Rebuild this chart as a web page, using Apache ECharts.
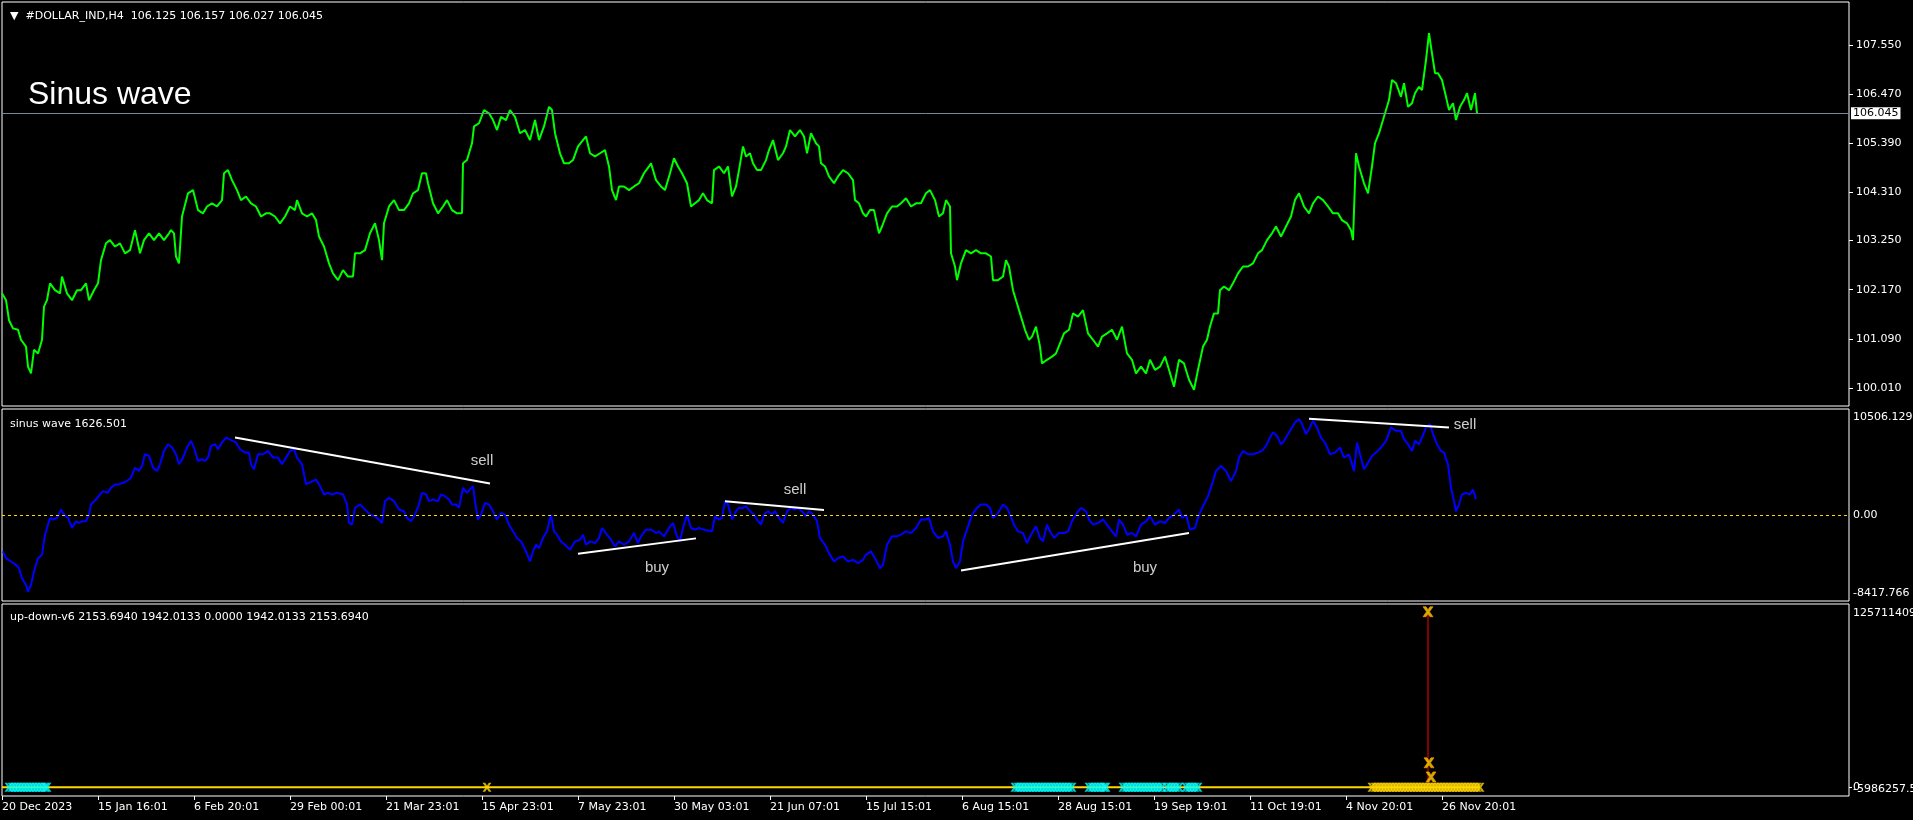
<!DOCTYPE html>
<html><head><meta charset="utf-8">
<script src="https://cdn.jsdelivr.net/npm/echarts@6/dist/echarts.min.js"></script>
<style>html,body{margin:0;padding:0;background:#000;}#c{width:1913px;height:820px;}</style>
</head><body><div id="c"></div><script>
// ---------- data ----------
const symbolName = '#DOLLAR_IND,H4';
const ohlc = ['106.125', '106.157', '106.027', '106.045'];
const lastPrice = 106.045;
const chartTitle = 'Sinus wave';
const sinusName = 'sinus wave';
const sinusLast = '1626.501';
const updownName = 'up-down-v6';
const updownValues = ['2153.6940', '1942.0133', '0.0000', '1942.0133', '2153.6940'];

const timeLabels = ['20 Dec 2023', '15 Jan 16:01', '6 Feb 20:01', '29 Feb 00:01', '21 Mar 23:01', '15 Apr 23:01',
  '7 May 23:01', '30 May 03:01', '21 Jun 07:01', '15 Jul 15:01', '6 Aug 15:01', '28 Aug 15:01',
  '19 Sep 19:01', '11 Oct 19:01', '4 Nov 20:01', '26 Nov 20:01'];
const timeTickBars = [0, 96, 192, 288, 384, 480, 576, 672, 768, 864, 960, 1056, 1152, 1248, 1344, 1440];
const barRange = [0, 1847];

const priceTicks = [100.010, 101.090, 102.170, 103.250, 104.310, 105.390, 106.470, 107.550];
const priceRange = [99.614, 108.495];
const sinusTicks = [-8417.766, 0, 10506.129];
const sinusTickLabels = ['-8417.766', '0.00', '10506.129'];
const updownTicks = [-5986257.5, 125711409];
const updownTickLabels = ['-5986257.5', '125711409'];
const updownZero = [0];
const updownZeroLabel = ['0'];

// [bar index, price]
const priceData = [[0,102.09],[4,101.94],[7,101.50],[11,101.32],[16,101.29],[19,101.07],[24,100.92],[26,100.48],[29,100.33],[32,100.85],[36,100.77],[40,101.07],[42,101.80],[45,101.94],[48,102.31],[53,102.16],[58,102.09],[60,102.46],[65,102.09],[70,101.94],[75,102.16],[79,102.16],[84,102.31],[87,101.94],[92,102.16],[96,102.31],[99,102.82],[104,103.19],[108,103.26],[113,103.12],[118,103.19],[123,102.97],[128,103.04],[133,103.48],[138,102.97],[142,103.26],[147,103.41],[152,103.26],[157,103.41],[162,103.26],[167,103.41],[169,103.48],[172,103.41],[174,102.90],[177,102.75],[180,103.78],[186,104.29],[191,104.36],[196,103.92],[201,103.85],[205,104.00],[210,104.07],[215,104.00],[220,104.14],[222,104.73],[226,104.80],[230,104.58],[235,104.36],[239,104.14],[244,104.22],[249,104.07],[254,104.00],[259,103.78],[264,103.85],[268,103.85],[273,103.78],[278,103.63],[283,103.78],[288,104.00],[293,103.92],[295,104.14],[300,103.85],[305,103.78],[310,103.85],[314,103.70],[317,103.34],[322,103.12],[327,102.75],[331,102.53],[336,102.38],[341,102.60],[346,102.46],[351,102.46],[353,102.97],[358,102.97],[363,103.04],[368,103.41],[373,103.63],[377,103.26],[380,102.82],[382,103.63],[387,104.00],[392,104.14],[397,103.92],[402,103.92],[407,104.07],[411,104.29],[416,104.36],[420,104.73],[424,104.73],[426,104.51],[431,104.07],[436,103.85],[441,104.00],[445,104.14],[450,103.92],[455,103.85],[460,103.85],[461,104.95],[465,105.02],[470,105.39],[472,105.76],[477,105.83],[482,106.12],[487,106.05],[491,105.90],[495,105.68],[499,105.97],[504,105.90],[508,106.12],[513,105.97],[518,105.61],[523,105.68],[528,105.46],[533,105.90],[537,105.46],[542,105.76],[547,106.19],[550,106.12],[553,105.61],[558,105.17],[562,104.95],[567,104.95],[571,105.02],[576,105.32],[581,105.46],[584,105.54],[588,105.17],[593,105.10],[598,105.17],[603,105.24],[607,104.88],[610,104.36],[614,104.14],[617,104.44],[622,104.44],[627,104.36],[632,104.44],[637,104.51],[642,104.73],[647,104.88],[649,104.95],[654,104.58],[659,104.44],[663,104.36],[668,104.73],[672,105.06],[676,104.88],[680,104.73],[685,104.51],[689,104.00],[693,104.07],[697,104.14],[701,104.29],[705,104.14],[710,104.07],[712,104.80],[717,104.88],[722,104.73],[726,104.88],[730,104.22],[734,104.44],
[737,104.80],[741,105.32],[744,105.10],[748,105.17],[751,104.95],[755,104.80],[759,104.80],[764,105.02],[767,105.24],[771,105.46],[776,105.02],[781,105.17],[784,105.32],[788,105.68],[793,105.54],[798,105.68],[802,105.54],[805,105.17],[809,105.61],[814,105.39],[817,105.32],[819,104.95],[823,104.88],[827,104.66],[832,104.51],[836,104.66],[841,104.80],[846,104.73],[851,104.58],[853,104.14],[857,104.07],[861,103.85],[864,103.78],[868,103.92],[872,103.92],[877,103.41],[880,103.56],[885,103.85],[890,104.00],[895,104.00],[899,104.07],[904,104.18],[909,104.00],[914,104.07],[919,104.07],[924,104.29],[928,104.36],[933,104.14],[937,103.78],[941,103.85],[944,104.14],[948,104.00],[949,102.97],[953,102.68],[955,102.38],[959,102.75],[964,103.04],[969,102.97],[974,103.04],[979,102.97],[984,102.97],[989,102.90],[991,102.38],[996,102.38],[1001,102.46],[1004,102.82],[1007,102.68],[1011,102.16],[1014,101.94],[1018,101.65],[1023,101.29],[1027,101.07],[1030,101.14],[1034,101.36],[1038,100.92],[1040,100.55],[1045,100.63],[1050,100.70],[1054,100.77],[1058,100.99],[1062,101.21],[1067,101.29],[1071,101.65],[1076,101.58],[1081,101.72],[1086,101.21],[1091,101.07],[1096,100.92],[1100,101.14],[1105,101.21],[1110,101.29],[1115,101.07],[1120,101.36],[1125,100.77],[1130,100.63],[1134,100.33],[1139,100.48],[1144,100.33],[1148,100.63],[1153,100.41],[1158,100.48],[1163,100.70],[1167,100.41],[1172,100.04],[1177,100.63],[1182,100.55],[1187,100.19],[1192,99.97],[1196,100.41],[1201,100.92],[1205,101.07],[1208,101.36],[1212,101.65],[1216,101.65],[1218,102.16],[1222,102.24],[1227,102.16],[1231,102.31],[1236,102.53],[1241,102.68],[1246,102.68],[1251,102.75],[1256,102.97],[1260,103.04],[1265,103.26],[1270,103.41],[1274,103.56],[1279,103.34],[1284,103.56],[1289,103.78],[1293,104.14],[1297,104.29],[1302,104.00],[1307,103.85],[1311,104.07],[1316,104.22],[1321,104.14],[1326,104.00],[1331,103.85],[1336,103.85],[1340,103.70],[1345,103.63],[1349,103.48],[1351,103.26],[1354,105.17],[1357,104.88],[1362,104.51],[1366,104.29],[1370,104.88],[1373,105.39],[1377,105.61],[1381,105.90],[1384,106.12],[1387,106.34],[1390,106.78],[1394,106.71],[1399,106.41],[1402,106.71],[1406,106.19],[1410,106.27],[1413,106.49],[1417,106.63],[1420,106.56],[1424,107.22],[1427,107.81],[1429,107.51],[1433,106.93],[1436,106.93],[1440,106.78],[1444,106.41],[1447,106.12],[1451,106.27],[1454,105.90],[1458,106.19],[1462,106.34],[1465,106.49],[1469,106.12],[1473,106.49],[1475,106.045]];

// [bar index, sinus wave value]
const sinusData = [[1,-3534],[4,-4195],[9,-4525],[14,-4855],[17,-5186],[20,-6177],[24,-6837],[26,-7498],[29,-6837],[32,-5516],[36,-4195],[40,-3865],[43,-1883],[45,-1222],[48,-231],[51,-396],[55,-231],[59,595],[62,99],[66,-231],[70,-1222],[74,-562],[77,-727],[80,-562],[84,-562],[87,99],[89,1090],[94,1585],[98,2081],[101,2411],[106,2246],[109,2741],[113,3072],[117,3072],[121,3237],[125,3402],[129,3732],[133,4723],[137,4393],[140,4888],[143,6045],[147,5879],[151,4723],[155,4393],[158,5054],[162,6375],[166,7035],[170,6705],[174,6045],[177,5054],[181,5714],[185,6705],[189,7366],[192,6705],[196,5384],[200,5549],[203,5384],[206,5714],[209,6870],[213,7035],[216,6540],[220,7200],[224,7696],[227,7531],[231,7366],[234,7200],[238,6540],[243,6210],[247,6210],[249,5054],[252,4558],[256,6045],[261,6045],[266,6375],[271,5714],[276,5714],[280,5054],[284,5714],[288,6375],[292,6540],[295,5714],[300,5054],[304,3072],[307,3237],[311,3402],[314,3567],[318,2907],[322,2081],[326,2246],[330,2081],[335,2246],[341,2081],[345,1090],[347,-727],[350,-892],[353,760],[358,1090],[363,595],[368,99],[373,-66],[377,-396],[380,-727],[383,1420],[387,1751],[392,1420],[397,595],[402,429],[405,-231],[409,-562],[413,99],[417,1090],[420,2246],[424,2081],[427,1420],[431,1585],[436,1420],[439,2081],[443,1916],[447,1585],[450,1090],[454,1090],[457,760],[461,2741],[465,2246],[468,2576],[471,2907],[473,1420],[476,-396],[479,99],[483,1255],[487,1090],[491,429],[495,-396],[499,264],[503,99],[507,-892],[511,-1552],[515,-2213],[519,-2543],[524,-3534],[528,-4525],[531,-3534],[534,-2874],[537,-3204],[541,-2213],[545,-1552],[549,99],[552,-1552],[555,-1883],[559,-2543],[563,-2874],[568,-3369],[573,-2543],[578,-2378],[581,-1883],[584,-2874],[588,-2543],[593,-2708],[597,-2213],[600,-1222],[605,-1883],[609,-2378],[613,-3039],[617,-2543],[622,-2874],[627,-2543],[632,-1718],[636,-2708],[639,-2048],[644,-1387],[649,-1387],[654,-1718],[657,-1552],[662,-2048],[667,-1222],[671,-727],[675,-2048],[678,-2543],[681,-1222],[685,99],[689,-1222],[693,-1387],[697,-1222],[702,-1387],[707,-1486],[710,-1552],[713,-66],[717,-396],[720,-231],[723,1420],[726,1090],[730,-396],[734,429],
[737,760],[741,760],[744,925],[748,429],[752,99],[755,-396],[759,-892],[762,99],[766,429],[770,99],[773,429],[777,-231],[781,-727],[785,429],[789,760],[793,595],[796,760],[800,429],[804,-66],[807,429],[811,99],[815,-562],[818,-2213],[823,-2874],[827,-3699],[832,-4525],[836,-4195],[841,-4030],[846,-4525],[851,-4360],[856,-4690],[861,-4360],[864,-3865],[869,-3534],[873,-4195],[878,-5186],[881,-4855],[885,-2874],[890,-2048],[895,-2048],[899,-1883],[904,-1552],[909,-1718],[914,-1222],[919,-396],[924,-396],[927,-231],[931,-1552],[936,-2213],[941,-2048],[944,-1552],[948,-2874],[951,-4525],[954,-5186],[958,-4525],[961,-2543],[965,-1387],[970,99],[975,760],[979,1090],[984,1090],[988,760],[991,-231],[996,264],[1001,1090],[1005,760],[1008,99],[1012,-892],[1016,-1552],[1021,-1718],[1025,-2708],[1029,-1883],[1034,-1057],[1038,-2213],[1041,-2543],[1045,-892],[1048,-1552],[1052,-2213],[1057,-1718],[1062,-1718],[1066,-1552],[1070,-562],[1075,264],[1079,760],[1084,429],[1087,-396],[1091,-892],[1096,-727],[1101,-396],[1105,-892],[1110,-1552],[1114,-2048],[1117,-396],[1121,-892],[1125,-1883],[1130,-1718],[1134,-2048],[1139,-892],[1144,-562],[1148,-66],[1153,-892],[1158,-562],[1163,-727],[1167,-231],[1172,99],[1177,595],[1180,-231],[1184,99],[1188,-1387],[1193,-1222],[1197,99],[1201,925],[1206,1916],[1210,3072],[1214,4393],[1219,4888],[1224,4393],[1229,3402],[1234,4393],[1237,5714],[1241,6375],[1246,6045],[1251,6045],[1256,6210],[1260,6375],[1264,6870],[1268,7696],[1271,8191],[1275,7861],[1279,7035],[1282,7366],[1286,8026],[1290,8687],[1293,9182],[1297,9513],[1300,9017],[1304,8026],[1308,8687],[1311,9347],[1315,8687],[1319,7696],[1323,7200],[1328,6045],[1333,6210],[1338,6705],[1342,5714],[1347,6045],[1352,4393],[1355,7200],[1358,6045],[1362,4558],[1366,5219],[1370,5879],[1374,6210],[1379,6705],[1384,7366],[1389,8687],[1394,8357],[1399,8357],[1402,7531],[1406,7035],[1410,6375],[1413,7366],[1417,7035],[1420,7696],[1424,8687],[1428,9017],[1431,8026],[1435,7035],[1439,6375],[1442,6210],[1446,5054],[1449,2741],[1452,1420],[1454,429],[1457,1090],[1460,2081],[1464,2246],[1468,2081],[1471,2576],[1474,1627]];

// hand-drawn trend lines on the sinus pane: [[bar, value], [bar, value]]
const trendLines = [
  [[233, 7696], [488, 3171]],
  [[576, -3765], [694, -2246]],
  [[723, 1420], [822, 561]],
  [[959, -5417], [1187, -1718]],
  [[1307, 9546], [1447, 8687]]
];
const signalNames = ['sell', 'buy', 'sell', 'buy', 'sell'];
const signalBars = [480, 655, 793, 1143, 1463];
const signalValues = [5350, -5152, 2576, -5152, 8947];

// up-down-v6 pane
const baselineData = [[0, 0], [1478, 0]];
const spikeData = [[1426, 120400000], [1426, 0]];
const spikeCrosses = [[1426, 120400000], [1427, 16800000], [1429, 7100000]];
const cyanMarkBars = [7,10,13,16,19,22,25,28,31,34,37,40,43,45,
  1013,1016,1019,1022,1025,1028,1031,1034,1037,1040,1043,1046,1049,1052,1055,1058,1061,1064,1067,1070,
  1087,1090,1093,1096,1099,1102,1104,
  1121,1124,1127,1130,1133,1136,1139,1142,1145,1148,1151,1154,1157,1160,
  1165,1168,1171,1174,1177,
  1184,1187,1190,1193,1196];
const goldMarkBars = [485,1370,1373,1376,1379,1382,1385,1388,1391,1394,1397,1400,1403,1406,1409,1412,1415,1418,
  1421,1424,1427,1430,1433,1436,1439,1442,1445,1448,1451,1454,1457,1460,1463,1466,1469,1472,1475,1478];

// ---------- chart ----------
const FONT = 'DejaVu Sans';
const XSYM = 'path://M0,0L3,0L5,3L7,0L10,0L6.5,5L10,10L7,10L5,7L3,10L0,10L3.5,5Z';
const chart = echarts.init(document.getElementById('c'), null, {renderer: 'canvas'});

const gridBase = {left: 2, width: 1847, show: true, borderColor: '#ffffff', borderWidth: 1,
  backgroundColor: '#000', containLabel: false, outerBoundsMode: 'none'};

function hiddenX(i) {
  return {type: 'value', gridIndex: i, min: barRange[0], max: barRange[1], show: false,
    axisLine: {show: false, onZero: false}, splitLine: {show: false}};
}

function edgeFormatter(ticks, labels) {
  return function (v) {
    const i = ticks.indexOf(v);
    const s = labels[i];
    if (i === ticks.length - 1) return '{top|' + s + '}';
    if (i === 0) return '{bot|' + s + '}';
    return s;
  };
}

const option = {
  animation: false,
  backgroundColor: '#000',
  title: [
    {text: '\u25BC  ' + symbolName + '  ' + ohlc.join(' '), left: 5, top: 6,
      textStyle: {color: '#fff', fontSize: 11, fontWeight: 'normal', fontFamily: FONT}},
    {text: chartTitle, left: 23, top: 74,
      textStyle: {color: '#fff', fontSize: 32, fontWeight: 'normal', fontFamily: 'Liberation Sans'}},
    {text: sinusName + ' ' + sinusLast, left: 5, top: 414,
      textStyle: {color: '#fff', fontSize: 11, fontWeight: 'normal', fontFamily: FONT}},
    {text: updownName + ' ' + updownValues.join(' '), left: 5, top: 607,
      textStyle: {color: '#fff', fontSize: 11, fontWeight: 'normal', fontFamily: FONT}}
  ],
  grid: [
    Object.assign({}, gridBase, {top: 2, height: 404}),
    Object.assign({}, gridBase, {top: 409, height: 192}),
    Object.assign({}, gridBase, {top: 604, height: 192})
  ],
  xAxis: [
    hiddenX(0), hiddenX(1),
    {type: 'value', gridIndex: 2, min: barRange[0], max: barRange[1],
      splitLine: {show: false},
      axisLine: {show: false, onZero: false},
      axisTick: {show: true, length: 4, customValues: timeTickBars, lineStyle: {color: '#fff'}},
      axisLabel: {customValues: timeTickBars, align: 'left', margin: 6, color: '#fff',
        fontFamily: FONT, fontSize: 11,
        formatter: v => timeLabels[timeTickBars.indexOf(v)] || ''}}
  ],
  yAxis: [
    {type: 'value', gridIndex: 0, position: 'right', min: priceRange[0], max: priceRange[1],
      splitLine: {show: false}, axisLine: {show: false, onZero: false},
      axisTick: {show: true, length: 4, customValues: priceTicks, lineStyle: {color: '#fff'}},
      axisLabel: {customValues: priceTicks, margin: 7, color: '#fff', fontFamily: FONT, fontSize: 11,
        showMinLabel: true, showMaxLabel: true,
        formatter: v => v.toFixed(3)}},
    {type: 'value', gridIndex: 1, position: 'right', min: sinusTicks[0], max: sinusTicks[2],
      splitLine: {show: false}, axisLine: {show: false, onZero: false}, axisTick: {show: false},
      axisLabel: {customValues: sinusTicks, margin: 4, color: '#fff', fontFamily: FONT, fontSize: 11,
        showMinLabel: true, showMaxLabel: true,
        formatter: edgeFormatter(sinusTicks, sinusTickLabels),
        rich: {top: {padding: [16, 0, 0, 0], color: '#fff', fontFamily: FONT, fontSize: 11},
               bot: {padding: [0, 0, 16, 0], color: '#fff', fontFamily: FONT, fontSize: 11}}}},
    {type: 'value', gridIndex: 2, position: 'right', min: updownTicks[0], max: updownTicks[1],
      splitLine: {show: false}, axisLine: {show: false, onZero: false}, axisTick: {show: false},
      axisLabel: {customValues: updownTicks, margin: 4, color: '#fff', fontFamily: FONT, fontSize: 11,
        showMinLabel: true, showMaxLabel: true,
        formatter: edgeFormatter(updownTicks, updownTickLabels),
        rich: {top: {padding: [18, 0, 0, 0], color: '#fff', fontFamily: FONT, fontSize: 11},
               bot: {padding: [0, 0, 14, 0], color: '#fff', fontFamily: FONT, fontSize: 11}}}},
    {type: 'value', gridIndex: 2, position: 'right', min: updownTicks[0], max: updownTicks[1],
      splitLine: {show: false}, axisLine: {show: false, onZero: false},
      axisTick: {show: true, length: 3, customValues: updownZero, lineStyle: {color: '#fff'}},
      axisLabel: {customValues: updownZero, margin: 4, color: '#fff', fontFamily: FONT, fontSize: 11,
        showMinLabel: true, showMaxLabel: true, formatter: () => updownZeroLabel[0]}}
  ],
  series: [
    {type: 'line', name: 'price', xAxisIndex: 0, yAxisIndex: 0, data: priceData, showSymbol: false,
      lineStyle: {color: '#00ff00', width: 2}, z: 3,
      markLine: {silent: true, symbol: ['none', 'none'], data: [{yAxis: lastPrice}],
        lineStyle: {color: '#778899', type: 'solid', width: 1},
        label: {show: true, position: 'end', distance: 2, formatter: () => lastPrice.toFixed(3),
          backgroundColor: '#fff', color: '#000', padding: [1, 2, 0, 2], fontFamily: FONT, fontSize: 11}}},
    {type: 'line', name: 'sinus', xAxisIndex: 1, yAxisIndex: 1, data: sinusData, showSymbol: false,
      lineStyle: {color: '#0000ff', width: 2}, z: 3,
      markLine: {silent: true, symbol: ['none', 'none'], data: [{yAxis: 0}],
        lineStyle: {color: '#ffd700', type: [3, 3], width: 1}, label: {show: false}}},
    ...trendLines.map(seg => ({type: 'line', xAxisIndex: 1, yAxisIndex: 1, data: seg, showSymbol: false,
      lineStyle: {color: '#ffffff', width: 2}, z: 4})),
    {type: 'scatter', xAxisIndex: 1, yAxisIndex: 1, symbolSize: 0, z: 5,
      data: signalBars.map((b, i) => ({name: signalNames[i], value: [b, signalValues[i]]})),
      label: {show: true, position: 'inside', formatter: p => p.name, color: '#ffffff',
        fontFamily: 'Liberation Sans', fontSize: 15}},
    {type: 'line', xAxisIndex: 2, yAxisIndex: 2, data: baselineData, showSymbol: false,
      lineStyle: {color: '#ffd700', width: 2}, z: 2},
    {type: 'line', xAxisIndex: 2, yAxisIndex: 2, data: spikeData, showSymbol: false,
      lineStyle: {color: '#ff0000', width: 1}, z: 3},
    {type: 'scatter', xAxisIndex: 2, yAxisIndex: 2, symbol: XSYM, symbolSize: [9, 9],
      data: cyanMarkBars.map(b => [b, 0]), itemStyle: {color: '#00ffff'}, z: 4},
    {type: 'scatter', xAxisIndex: 2, yAxisIndex: 2, symbol: XSYM, symbolSize: [9, 9],
      data: goldMarkBars.map(b => [b, 0]), itemStyle: {color: '#ffd700'}, z: 4},
    {type: 'scatter', xAxisIndex: 2, yAxisIndex: 2, symbol: XSYM, symbolSize: [10, 10],
      data: spikeCrosses, itemStyle: {color: '#ffd700', borderColor: '#ff9900', borderWidth: 0.8}, z: 5}
  ]
};
chart.setOption(option);
</script></body></html>
